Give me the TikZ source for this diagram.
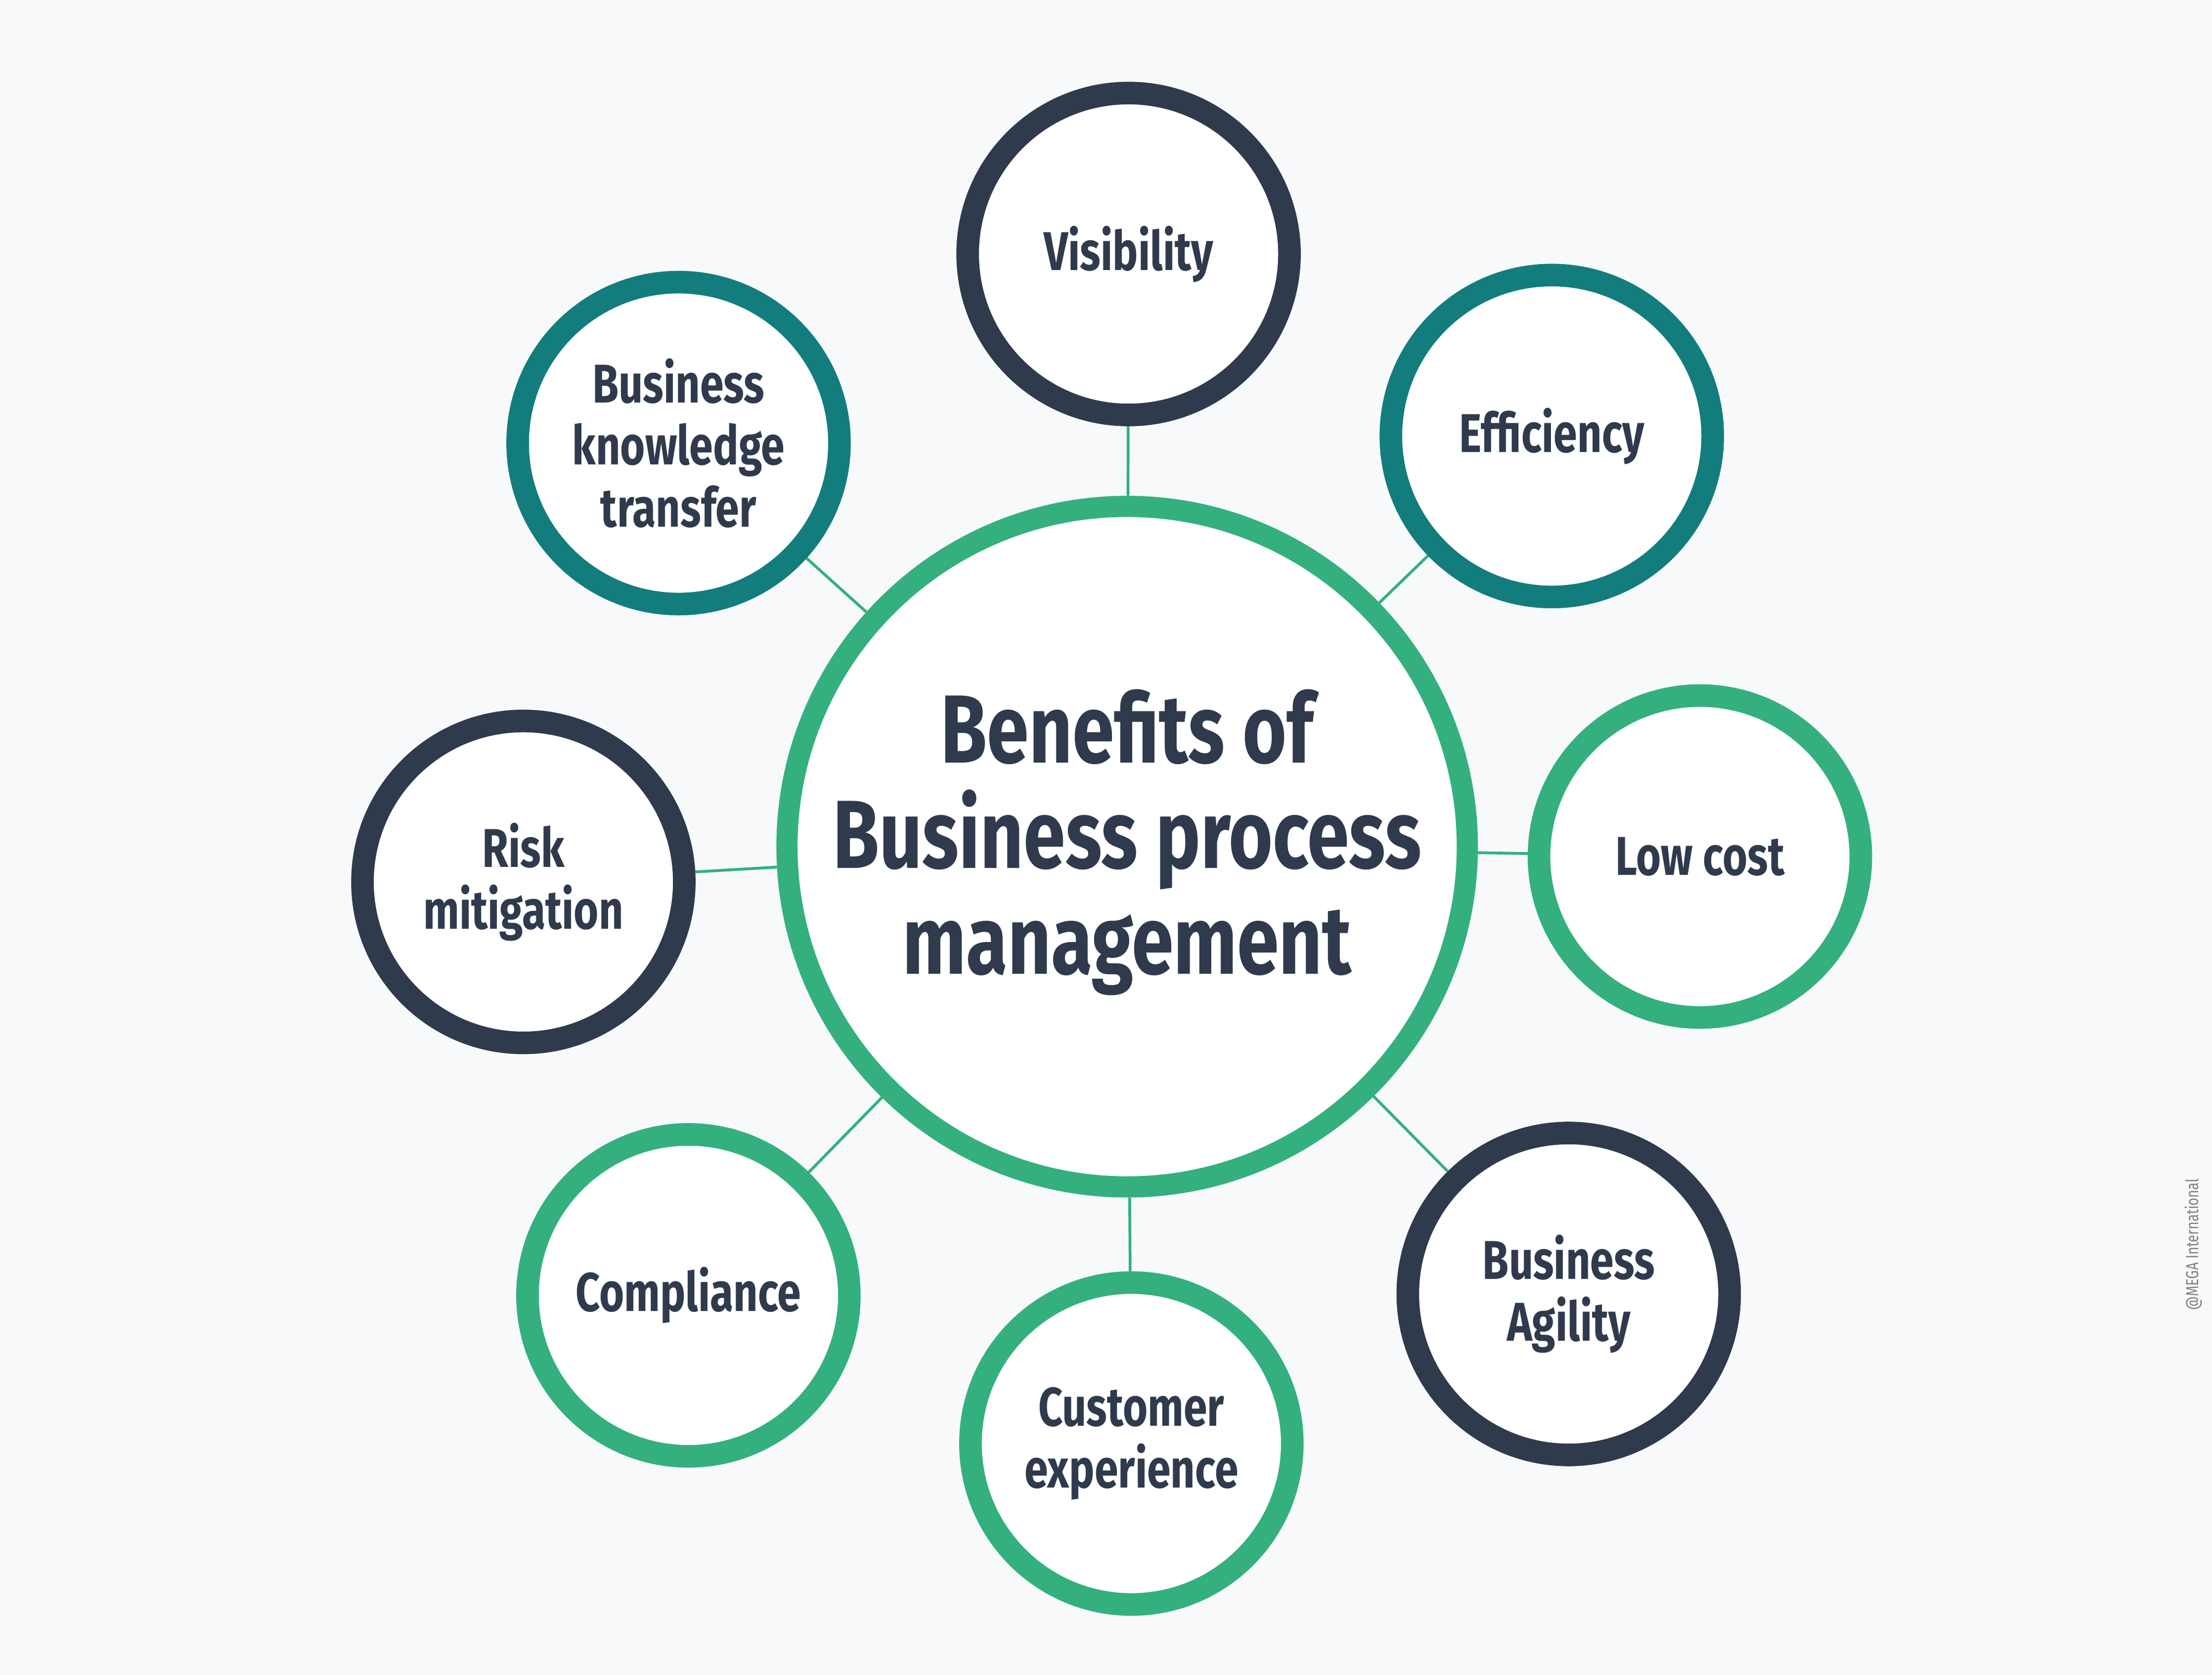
\documentclass[tikz,border=0pt]{standalone}
\usepackage{fontspec}
\setmainfont{Fira Sans}[FakeStretch=0.78]
\definecolor{navy}{HTML}{2F3A4D}
\definecolor{teal}{HTML}{137D7D}
\definecolor{mint}{HTML}{34B07F}
\definecolor{paper}{HTML}{F8F9FA}
\tikzset{
  benefit/.style={circle,draw=#1,fill=white,line width=0.16cm,minimum size=2.28cm,
    inner sep=0pt,align=center,text=navy,font=\bfseries\fontsize{11}{12.5}\selectfont},
  link/.style={mint,line width=0.02cm}
}
\begin{document}
\begin{tikzpicture}[x=0.01cm,y=-0.01cm]
\fill[paper] (0,0) rectangle (1568,1187);
\useasboundingbox (0,0) rectangle (1568,1187);

% centre
\node[circle,draw=mint,fill=white,line width=0.15cm,minimum size=4.82cm,
  inner sep=0pt] (bpm) at (799,600) {};
\node[align=center,text=navy,font=\bfseries\fontsize{19.5}{21.3}\selectfont]
  (title) at (799,597) {Benefits of\\Business process\\management};

% benefits
\node[benefit=navy] (vis) at (800,180) {Visibility};
\node[benefit=teal] (eff) at (1100,309) {Efficiency};
\node[benefit=teal] (bkt) at (481,314) {Business\\knowledge\\transfer};
\node[benefit=navy] (risk) at (371,625) {Risk\\mitigation};
\node[benefit=mint] (cost) at (1205,607) {Low cost};
\node[benefit=mint] (comp) at (488,918) {Compliance};
\node[benefit=mint] (cust) at (802,1023) {Customer\\experience};
\node[benefit=navy] (agil) at (1112,917) {Business\\Agility};

\foreach \b in {vis,eff,bkt,risk,cost,comp,cust,agil}
  \draw[link] (\b) -- (bpm);

\node[rotate=90,text=gray,font=\fontsize{3.5}{4}\selectfont] (credit) at (1555,882)
  {@MEGA International};
\end{tikzpicture}
\end{document}
